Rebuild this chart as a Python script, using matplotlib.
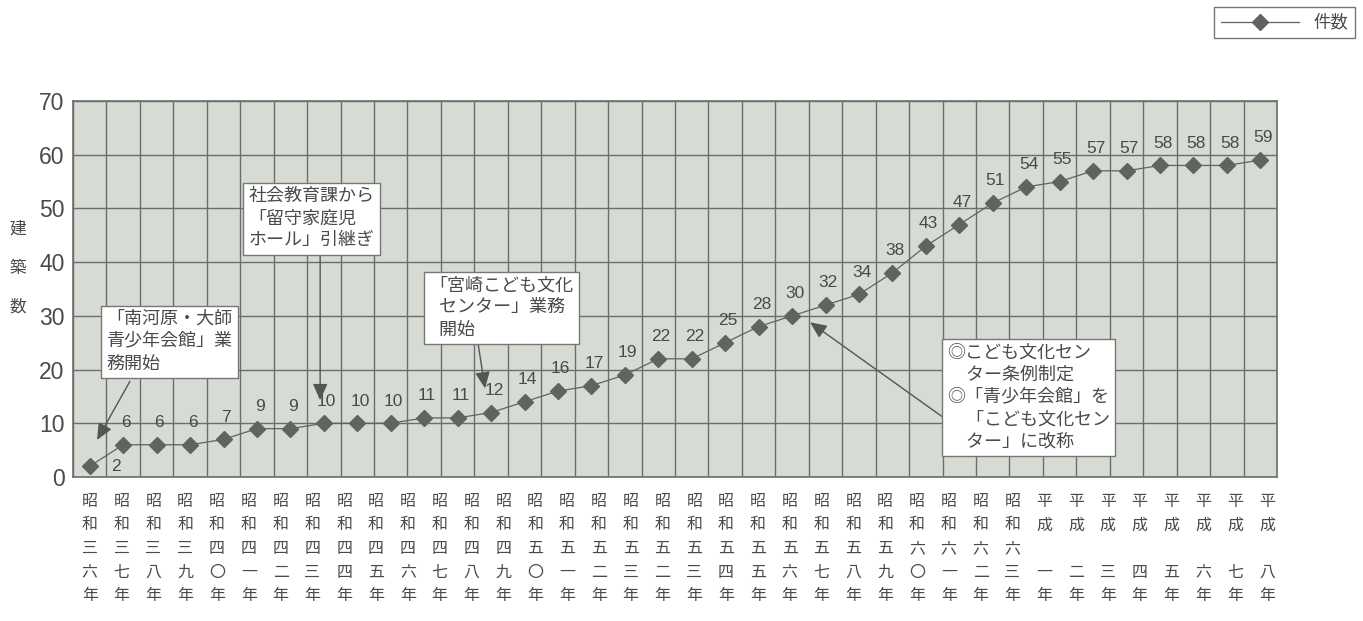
import numpy as np
import matplotlib.pyplot as plt

plt.rcParams['font.family'] = ['Liberation Sans', 'Noto Sans CJK JP']

# 件数 per year, 昭和三六年 .. 平成八年
counts = [2, 6, 6, 6, 7, 9, 9, 10, 10, 10, 11, 11, 12, 14, 16, 17, 19, 22, 22,
          25, 28, 30, 32, 34, 38, 43, 47, 51, 54, 55, 57, 57, 58, 58, 58, 59]

# printed year labels under the axis (one column of characters each)
showa_years = ['三六', '三七', '三八', '三九', '四〇', '四一', '四二', '四三', '四四',
               '四五', '四六', '四七', '四八', '四九', '五〇', '五一', '五二', '五三',
               '五二', '五三', '五四', '五五', '五六', '五七', '五八', '五九', '六〇',
               '六一', '六二', '六三']
heisei_years = ['一', '二', '三', '四', '五', '六', '七', '八']

year_labels = ['\n'.join(['昭', '和', y[0], y[1], '年']) for y in showa_years]
year_labels += ['\n'.join(['平', '成', '', y, '年']) for y in heisei_years]

# note text, text top-left, arrow tail, arrow tip (data coords)
notes = [
    ('「南河原・大師\n青少年会館」業\n務開始', (0.5, 30.9), (1.20, 17.8), (0.22, 6.9)),
    ('社会教育課から\n「留守家庭児\nホール」引継ぎ', (4.75, 53.8), (6.89, 41.2), (6.89, 14.3)),
    ('「宮崎こども文化\n  センター」業務\n  開始', (10.15, 37.2), (11.61, 24.9), (11.82, 16.5)),
    ('◎こども文化セン\n　ター条例制定\n◎「青少年会館」を\n　「こども文化セン\n　ター」に改称',
     (25.65, 24.6), (25.52, 11.1), (21.54, 28.8)),
]

grey = '#5f645f'
text_grey = '#4a4a4a'

fig = plt.figure(figsize=(13.63, 6.21), dpi=100)
ax = fig.add_axes([73 / 1363, 1 - 477 / 621, 1204 / 1363, 376 / 621])
ax.set_facecolor('#d6dbd4')

x = np.arange(len(counts))
ax.plot(x, counts, color=grey, lw=0.9, marker='D', ms=7.8,
        markerfacecolor=grey, markeredgecolor=grey, label='件数', zorder=3)

# value labels
for i, v in enumerate(counts):
    off = (19, 0) if i == 0 else (2, 16)
    ax.annotate(str(v), (i, v), xytext=off, textcoords='offset points',
                ha='center', va='center', fontsize=12.5, color=text_grey, zorder=4)

ax.set_xlim(-0.5, len(counts) - 0.5)
ax.set_ylim(0, 70)
ax.set_yticks(range(0, 71, 10))

# column boundaries as vertical grid, year labels spread across the width
ax.set_xticks(np.arange(-0.5, len(counts)), minor=True)
ax.set_xticks(np.linspace(0, len(counts) - 0.8, len(year_labels)))
ax.set_xticklabels(year_labels, fontsize=11.5, color=text_grey, linespacing=1.72)
ax.grid(which='minor', axis='x', color='#6b6f6b', lw=1.0)
ax.grid(which='major', axis='y', color='#6b6f6b', lw=1.0)
ax.set_axisbelow(True)
ax.tick_params(axis='x', which='both', length=0, pad=12)
ax.tick_params(axis='y', length=0, pad=6, labelsize=16.5, labelcolor=text_grey)
for s in ax.spines.values():
    s.set_color('#6b6f6b')
    s.set_linewidth(1.2)

fig.text(18 / 1363, 1 - 268 / 621, '建\n築\n数', ha='center', va='center',
         fontsize=12, color=text_grey, linespacing=2.9)

for txt, pos, tail, tip in notes:
    ax.annotate('', xy=tip, xytext=tail, zorder=4,
                arrowprops=dict(arrowstyle='-|>,head_length=1.0,head_width=0.45',
                                mutation_scale=10, color='#555555', lw=1,
                                shrinkA=0, shrinkB=0))
    ax.text(pos[0], pos[1], txt, ha='left', va='top', fontsize=13,
            color=text_grey, linespacing=1.4, zorder=5,
            bbox=dict(boxstyle='square,pad=0.3', fc='white', ec='#777777', lw=1))

ax.legend(loc='upper right', bbox_to_anchor=(1355 / 1363, 1 - 7 / 621),
          bbox_transform=fig.transFigure, borderaxespad=0, fontsize=12.5,
          handlelength=4.5, frameon=True, fancybox=False, edgecolor='#777777',
          framealpha=1, labelcolor=text_grey)

fig.savefig('out.png', dpi=100)
